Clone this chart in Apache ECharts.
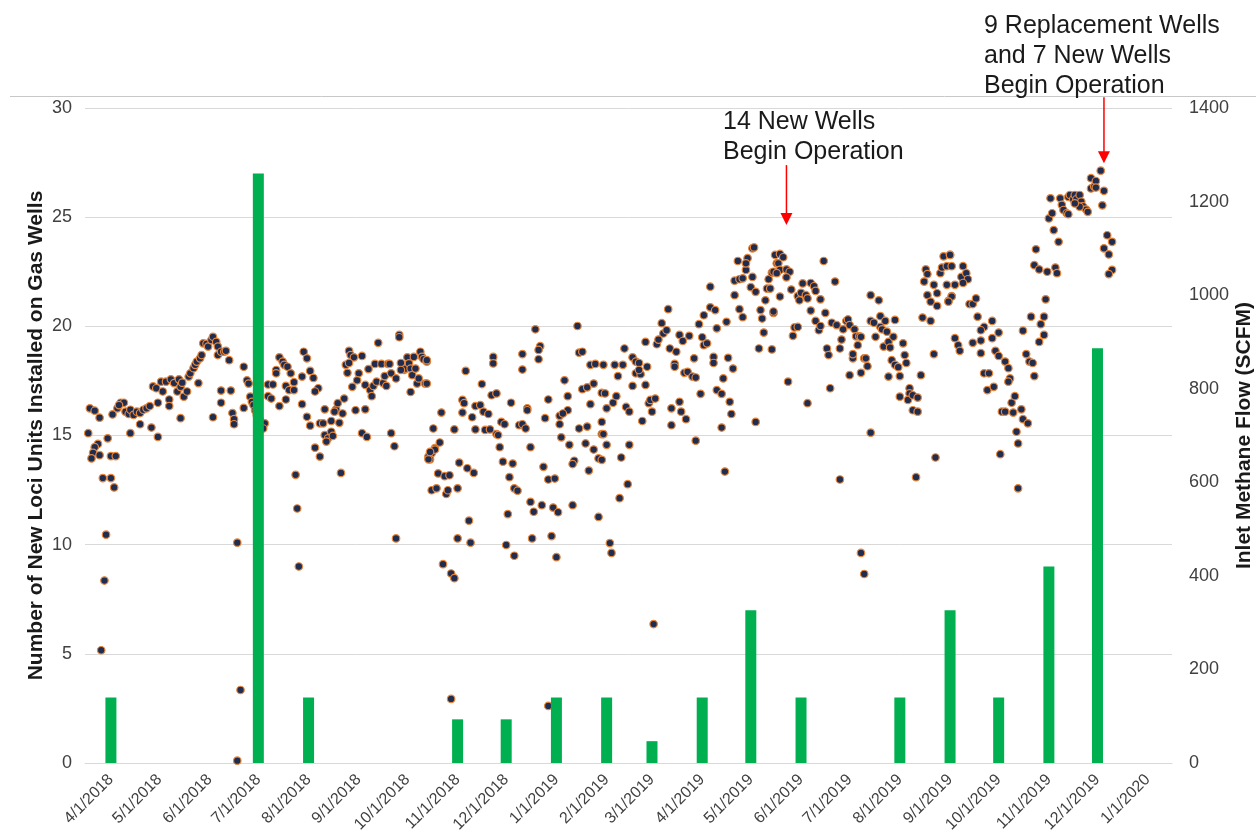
<html>
<head>
    <script src="https://cdn.jsdelivr.net/npm/echarts@6/dist/echarts.min.js"></script>
</head>
<body style="margin:0;background:#fff">
<div id="main" style="width:1256px;height:840px;"></div>
<script>
// x axis tick labels (month starts)
const monthLabels = ['4/1/2018','5/1/2018','6/1/2018','7/1/2018','8/1/2018','9/1/2018','10/1/2018','11/1/2018','12/1/2018',
    '1/1/2019','2/1/2019','3/1/2019','4/1/2019','5/1/2019','6/1/2019','7/1/2019','8/1/2019','9/1/2019','10/1/2019',
    '11/1/2019','12/1/2019','1/1/2020'];

// new Loci units installed on gas wells (left axis)
const unitMonths = ['4/1/2018','7/1/2018','8/1/2018','11/1/2018','12/1/2018','1/1/2019','2/1/2019','3/1/2019',
    '4/1/2019','5/1/2019','6/1/2019','8/1/2019','9/1/2019','10/1/2019','11/1/2019','12/1/2019'];
const unitCounts = [3, 27, 3, 2, 2, 3, 3, 1, 3, 7, 3, 3, 7, 3, 9, 19];

// inlet methane flow (right axis): [days after 4/1/2018, SCFM]
const flowStart = '4/1/2018';
const flowPoints = [
    [-13,758],[-10,753],[-7,738],[-14,705],[-8,682],[-10,675],[-11,663],[-12,651],[-7,658],[-2,694],[0,656],[3,656],
    [-5,609],[0,609],[2,589],[-3,488],[-4,390],[-6,241],[1,745],[4,758],[6,770],[8,770],[5,765],[9,751],[11,746],
    [12,755],[14,744],[16,751],[18,748],[20,755],[22,758],[24,763],[12,705],[18,724],[25,717],[29,697],[29,770],
    [26,805],[28,801],[31,815],[32,794],[34,815],[36,777],[36,763],[37,820],[39,812],[41,794],[42,820],[43,804],
    [44,813],[45,783],[47,794],[48,826],[49,833],[51,844],[52,851],[53,858],[54,812],[55,865],[56,872],[57,897],
    [59,896],[60,890],[62,904],[63,911],[65,900],[66,890],[66,872],[68,879],[70,879],[71,881],[73,861],[43,737],
    [63,739],[68,796],[74,796],[68,770],[75,748],[76,735],[76,724],[78,471],[80,156],[78,5],[82,847],[84,818],
    [85,811],[86,783],[87,772],[82,759],[88,765],[89,754],[90,744],[91,733],
    [90,754],[91,740],[92,733],[93,722],[95,726],[94,715],[97,809],[100,809],[97,784],[99,779],[102,840],[102,833],
    [104,867],[106,858],[107,851],[109,847],[111,833],[108,806],[110,797],[113,797],[113,814],[108,777],[104,763],
    [119,879],[121,865],[123,838],[125,823],[118,826],[128,801],[126,794],[118,767],[121,740],[123,721],[114,616],
    [115,544],[116,420],[126,674],[129,655],[129,726],[131,726],[132,756],[132,701],[134,694],[133,687],[136,731],
    [136,708],[137,699],[139,756],[138,751],[140,769],[141,727],[143,747],[144,779],[142,620],[147,881],[148,872],
    [150,867],[155,870],[145,851],[146,834],[147,855],[149,804],[151,754],[153,833],[152,818],[157,756],[155,705],
    [158,697],[159,842],[157,808],[160,797],[161,784],[162,806],[163,853],[164,815],[165,898],[167,853],[168,812],
    [169,827],[171,853],[172,853],[170,806],[173,833],[173,705],[175,677],[176,480],[176,822],[178,915],[178,910],
    [179,855],[181,840],[182,843],[183,867],[184,854],[185,843],[186,829],[187,868],[188,843],[189,811],[191,879],
    [192,868],[193,863],[194,811],[195,858],[190,822],[185,793],[179,840],[199,715],[198,662],[196,655],[197,649],
    [198,583],[200,673],
    [195,861],[195,811],[204,749],[203,685],[200,670],[197,665],[196,649],[202,619],[206,613],[209,615],[201,587],
    [207,575],[208,583],[214,587],[205,425],[210,405],[212,395],[210,137],[212,713],[215,642],[220,630],[224,620],
    [221,518],[214,480],[222,471],[219,838],[217,776],[218,769],[217,749],[223,739],[225,763],[228,765],[229,810],
    [230,751],[233,746],[225,713],[231,712],[234,713],[238,703],[239,701],[235,786],[238,790],[236,868],[236,854],
    [241,729],[243,724],[240,675],[242,644],[248,640],[246,611],[249,587],[251,582],[245,532],[244,466],[249,443],
    [247,770],[254,874],[254,841],[257,758],[257,754],[252,722],[254,724],[256,715],[259,675],[259,558],[261,537],
    [260,480],[262,927],[265,891],[264,883],[264,863],[270,777],[268,737],[267,633],[270,606],[274,608],[266,551],
    [273,546],[276,536],[272,485],[275,440],[270,122],[280,818],[282,784],[282,754],[277,742],[279,747],[277,724],
    [278,696],[283,680],[286,646],[285,639],[285,551],[288,934],[289,877],[291,879],[296,851],[299,853],[291,799],
    [294,803],[298,811],[296,767],[289,715],[294,719],[293,683],[298,670],[301,651],[295,625],[301,526],[303,791],
    [303,729],[303,703],
    [304,851],[305,790],[304,703],[306,680],[303,648],[306,758],[308,470],[309,449],[311,851],[316,851],[313,827],
    [317,886],[310,770],[312,784],[318,761],[320,751],[320,680],[315,653],[319,596],[314,566],[322,867],[324,858],
    [326,855],[324,833],[327,831],[326,840],[331,847],[322,806],[330,808],[328,731],[330,900],[332,769],[333,776],
    [336,779],[334,751],[335,297],[337,895],[338,905],[340,940],[341,918],[343,925],[344,970],[345,886],[348,853],
    [349,879],[351,915],[353,902],[348,847],[351,772],[352,751],[355,735],[346,722],[346,758],[354,834],[356,836],
    [357,913],[359,826],[361,824],[360,865],[363,938],[364,789],[361,689],[365,910],[366,893],[368,897],[366,957],
    [370,974],[373,968],[370,1018],[372,868],[372,855],[374,929],[374,797],[377,789],[378,822],[377,717],[379,623],
    [380,943],[381,866],[384,843],[382,772],[383,746],[385,1000],[385,1031],[387,1073],[388,1034],[390,1036],
    [392,1054],[393,1079],[392,1068],[388,970],[390,953],[395,1017],[396,1100],[397,1102],[396,1039],[398,1007],
    [400,886],[398,729],[401,968],[402,950],[403,920],[404,989],[405,1014],[406,1034],[407,1014],[408,1048],
    [409,1050],[410,1086],[411,1068],[409,962],[408,884],
    [413,1088],[415,1081],[412,1068],[413,1054],[411,1047],[417,1055],[419,1050],[417,1038],[409,965],[413,997],
    [420,1012],[422,931],[421,913],[424,932],[424,998],[425,989],[426,1005],[427,1025],[429,1000],[430,993],
    [432,967],[432,1026],[434,1019],[435,1009],[435,945],[437,925],[438,934],[438,991],[418,815],[430,769],
    [440,1073],[441,962],[442,886],[443,872],[444,801],[445,941],[447,1029],[448,936],[450,606],[450,886],[451,905],
    [452,927],[454,945],[455,948],[456,936],[456,829],[458,865],[458,874],[459,927],[460,912],[462,912],[463,911],
    [463,834],[461,893],[465,865],[466,865],[467,848],[469,706],[469,1000],[469,945],[471,941],[472,911],[474,989],
    [475,955],[475,932],[476,927],[478,945],[479,922],[477,890],[480,900],[481,888],[483,911],[484,947],[480,826],
    [482,861],[484,851],[486,846],[487,827],[489,897],[490,872],[491,855],[487,783],[493,801],[493,790],[492,776],
    [495,786],[498,781],[495,754],[498,751],[500,829],[497,611],[501,952],[506,945],[508,874],[509,653],[463,449],
    [465,404],[503,1055],[504,1045],[502,1029],[504,1000],[506,986],[508,1022],[510,1004],[510,977],[512,1047],
    [513,1059],[514,1083],[516,1062],[518,1086],[516,1022],[517,988],[519,998],
    [518,1086],[519,1062],[521,1022],[519,997],[517,986],[526,1062],[525,1039],[528,1047],[529,1034],[526,1026],
    [521,908],[523,893],[524,881],[530,981],[532,981],[534,993],[535,954],[532,898],[537,903],[539,932],[537,925],
    [537,876],[544,945],[544,908],[548,920],[546,881],[548,870],[552,858],[554,844],[555,822],[554,815],[539,833],
    [542,833],[541,797],[545,804],[550,751],[552,751],[557,749],[556,770],[558,784],[562,756],[563,735],[566,726],
    [559,708],[560,683],[549,660],[560,587],[563,924],[565,874],[567,858],[569,855],[570,827],[568,954],[573,900],
    [576,915],[574,938],[576,954],[577,991],[571,1098],[570,1064],[573,1055],[578,1050],[583,1059],[584,1047],
    [580,1207],[579,1164],[581,1175],[582,1139],[585,1114],[586,1207],[587,1193],[588,1182],[590,1175],[591,1173],
    [591,1210],[592,1214],[594,1205],[595,1214],[596,1205],[598,1214],[599,1200],[600,1190],[602,1183],[603,1178],
    [598,1189],[595,1196],[605,1228],[607,1232],[605,1250],[608,1244],[608,1230],[611,1266],[613,1223],[612,1192],
    [615,1128],[618,1114],[613,1100],[616,1087],[618,1054],[616,1045]
];

// annotations: arrow date, arrow top / tip (SCFM)
const noteDates = ['5/23/2019', '12/5/2019'];
const noteFrom = [1278, 1423];
const noteTo = [1150, 1282];

// x positions are days counted from flowStart
const DAY = 86400000;
function toDay(s) {
    const p = s.split('/');
    const a = flowStart.split('/');
    return Math.round((Date.UTC(+p[2], +p[0] - 1, +p[1]) - Date.UTC(+a[2], +a[0] - 1, +a[1])) / DAY);
}
const monthDays = monthLabels.map(toDay);
const labelOfDay = {};
monthDays.forEach((d, i) => { labelOfDay[d] = monthLabels[i]; });

const myChart = echarts.init(document.getElementById('main'));
const font = 'Liberation Sans, Arial, sans-serif';

const option = {
    animation: false,
    textStyle: { fontFamily: font },
    grid: { left: 85, right: 84, top: 108, bottom: 77, containLabel: false, outerBoundsMode: 'none' },
    xAxis: {
        type: 'value',
        min: toDay('3/16/2018'),
        max: toDay('1/16/2020'),
        axisLine: { show: true, onZero: false, lineStyle: { color: '#d9d9d9' } },
        axisTick: { show: false },
        splitLine: { show: false },
        axisLabel: {
            customValues: monthDays,
            rotate: 45,
            fontSize: 16,
            color: '#404040',
            margin: 14,
            formatter: function (v) { return labelOfDay[Math.round(v)] || ''; }
        }
    },
    yAxis: [{
        type: 'value',
        min: 0, max: 30, interval: 5,
        name: 'Number of New Loci Units Installed on Gas Wells',
        nameLocation: 'middle',
        nameGap: 31,
        nameMoveOverlap: false,
        nameTextStyle: { fontSize: 21, fontWeight: 'bold', color: '#1a1a1a' },
        axisLine: { show: false },
        axisTick: { show: false },
        axisLabel: { fontSize: 18, color: '#404040', margin: 13 },
        splitLine: { lineStyle: { color: '#d9d9d9' } }
    }, {
        type: 'value',
        min: 0, max: 1400, interval: 200,
        name: 'Inlet Methane Flow (SCFM)',
        nameLocation: 'middle',
        nameGap: 54,
        nameMoveOverlap: false,
        nameTextStyle: { fontSize: 21, fontWeight: 'bold', color: '#1a1a1a' },
        axisLine: { show: false },
        axisTick: { show: false },
        axisLabel: { fontSize: 18, color: '#404040', margin: 17, formatter: v => String(v) },
        splitLine: { show: false }
    }],
    series: [{
        name: 'Inlet Methane Flow',
        type: 'scatter',
        yAxisIndex: 1,
        symbolSize: 7.5,
        itemStyle: { color: '#1f2d50', borderColor: '#e8873c', borderWidth: 1.2, opacity: 1 },
        data: flowPoints
    }, {
        name: 'New Loci Units',
        type: 'bar',
        yAxisIndex: 0,
        barWidth: 11,
        z: 3,
        itemStyle: { color: '#00b050' },
        data: unitMonths.map((m, i) => [toDay(m), unitCounts[i]])
    }]
};
myChart.setOption(option);

// annotation arrows placed through the chart's own scales
const graphics = [
    { type: 'line', shape: { x1: 10, y1: 96.5, x2: 1256, y2: 96.5 }, style: { stroke: '#c8c8c8', lineWidth: 1 } },
    { type: 'text', left: 723, top: 101, style: { text: '14 New Wells\nBegin Operation', font: '25px ' + font, fill: '#1a1a1a', lineHeight: 30 } },
    { type: 'text', left: 984, top: 5, style: { text: '9 Replacement Wells\nand 7 New Wells\nBegin Operation', font: '25px ' + font, fill: '#1a1a1a', lineHeight: 30 } }
];
noteDates.forEach((d, i) => {
    const a = myChart.convertToPixel({ xAxisIndex: 0, yAxisIndex: 1 }, [toDay(d), noteFrom[i]]);
    const b = myChart.convertToPixel({ xAxisIndex: 0, yAxisIndex: 1 }, [toDay(d), noteTo[i]]);
    graphics.push({ type: 'line', shape: { x1: a[0], y1: a[1], x2: b[0], y2: b[1] - 10 }, style: { stroke: '#ff0000', lineWidth: 1.5 }, z: 10 });
    graphics.push({ type: 'polygon', shape: { points: [[b[0] - 6, b[1] - 12], [b[0] + 6, b[1] - 12], [b[0], b[1]]] }, style: { fill: '#ff0000' }, z: 10 });
});
myChart.setOption({ graphic: graphics });
</script>
</body>
</html>
